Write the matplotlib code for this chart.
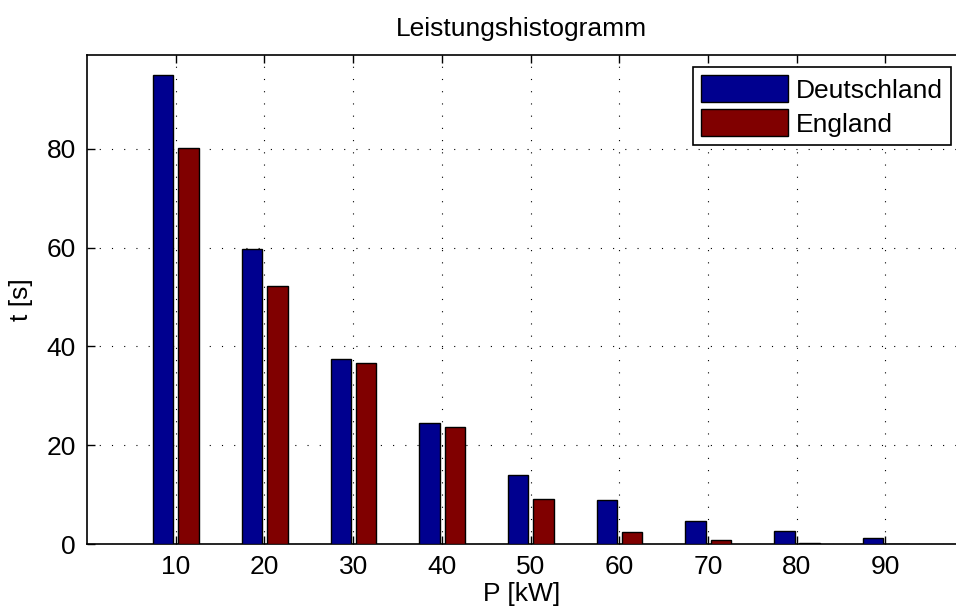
import numpy as np
import matplotlib
matplotlib.use('Agg')
import matplotlib.pyplot as plt

plt.rcParams['font.family'] = ['Liberation Sans', 'DejaVu Sans']

P = [10, 20, 30, 40, 50, 60, 70, 80, 90]
deutschland = [94.9, 59.7, 37.4, 24.5, 14.0, 9.0, 4.6, 2.7, 1.2]
england = [80.1, 52.2, 36.6, 23.7, 9.2, 2.4, 0.8, 0.2, 0.1]
yticks = [0, 20, 40, 60, 80]

fig = plt.figure(figsize=(9.56, 6.12), dpi=100)
# axes run off the right edge of the figure
ax = fig.add_axes([0.091, 0.111, 0.909, 0.799])

x = np.array(P, dtype=float)
w = 2.3
ax.bar(x - 1.4, deutschland, w, color='#00008f', edgecolor='black',
       linewidth=1.0, label='Deutschland', zorder=3)
ax.bar(x + 1.45, england, w, color='#800000', edgecolor='black',
       linewidth=1.0, label='England', zorder=3)

ax.set_xlim(0, 97.95)
ax.set_ylim(0, 99)
ax.set_xticks(P)
ax.set_yticks(yticks)
ax.tick_params(direction='in', length=6, width=1, labelsize=19,
               top=True, right=False, pad=8)
ax.grid(True, color='black', linestyle=(0, (1, 10)), linewidth=0.8, zorder=1)
for s in ax.spines.values():
    s.set_linewidth(1.2)
ax.spines['right'].set_visible(False)

ax.set_title('Leistungshistogramm', fontsize=19, pad=14)
ax.set_xlabel('P [kW]', fontsize=19, labelpad=2)
ax.set_ylabel('t [s]', fontsize=19, labelpad=10)

leg = ax.legend(loc='upper right', bbox_to_anchor=(0.995, 0.89),
                bbox_transform=fig.transFigure, fontsize=19,
                fancybox=False, framealpha=1, edgecolor='black',
                handlelength=3.3, handleheight=1.2, handletextpad=0.3,
                borderpad=0.3, labelspacing=0.25, borderaxespad=0)
leg.get_frame().set_linewidth(1.2)

fig.savefig('out.png', dpi=100)
